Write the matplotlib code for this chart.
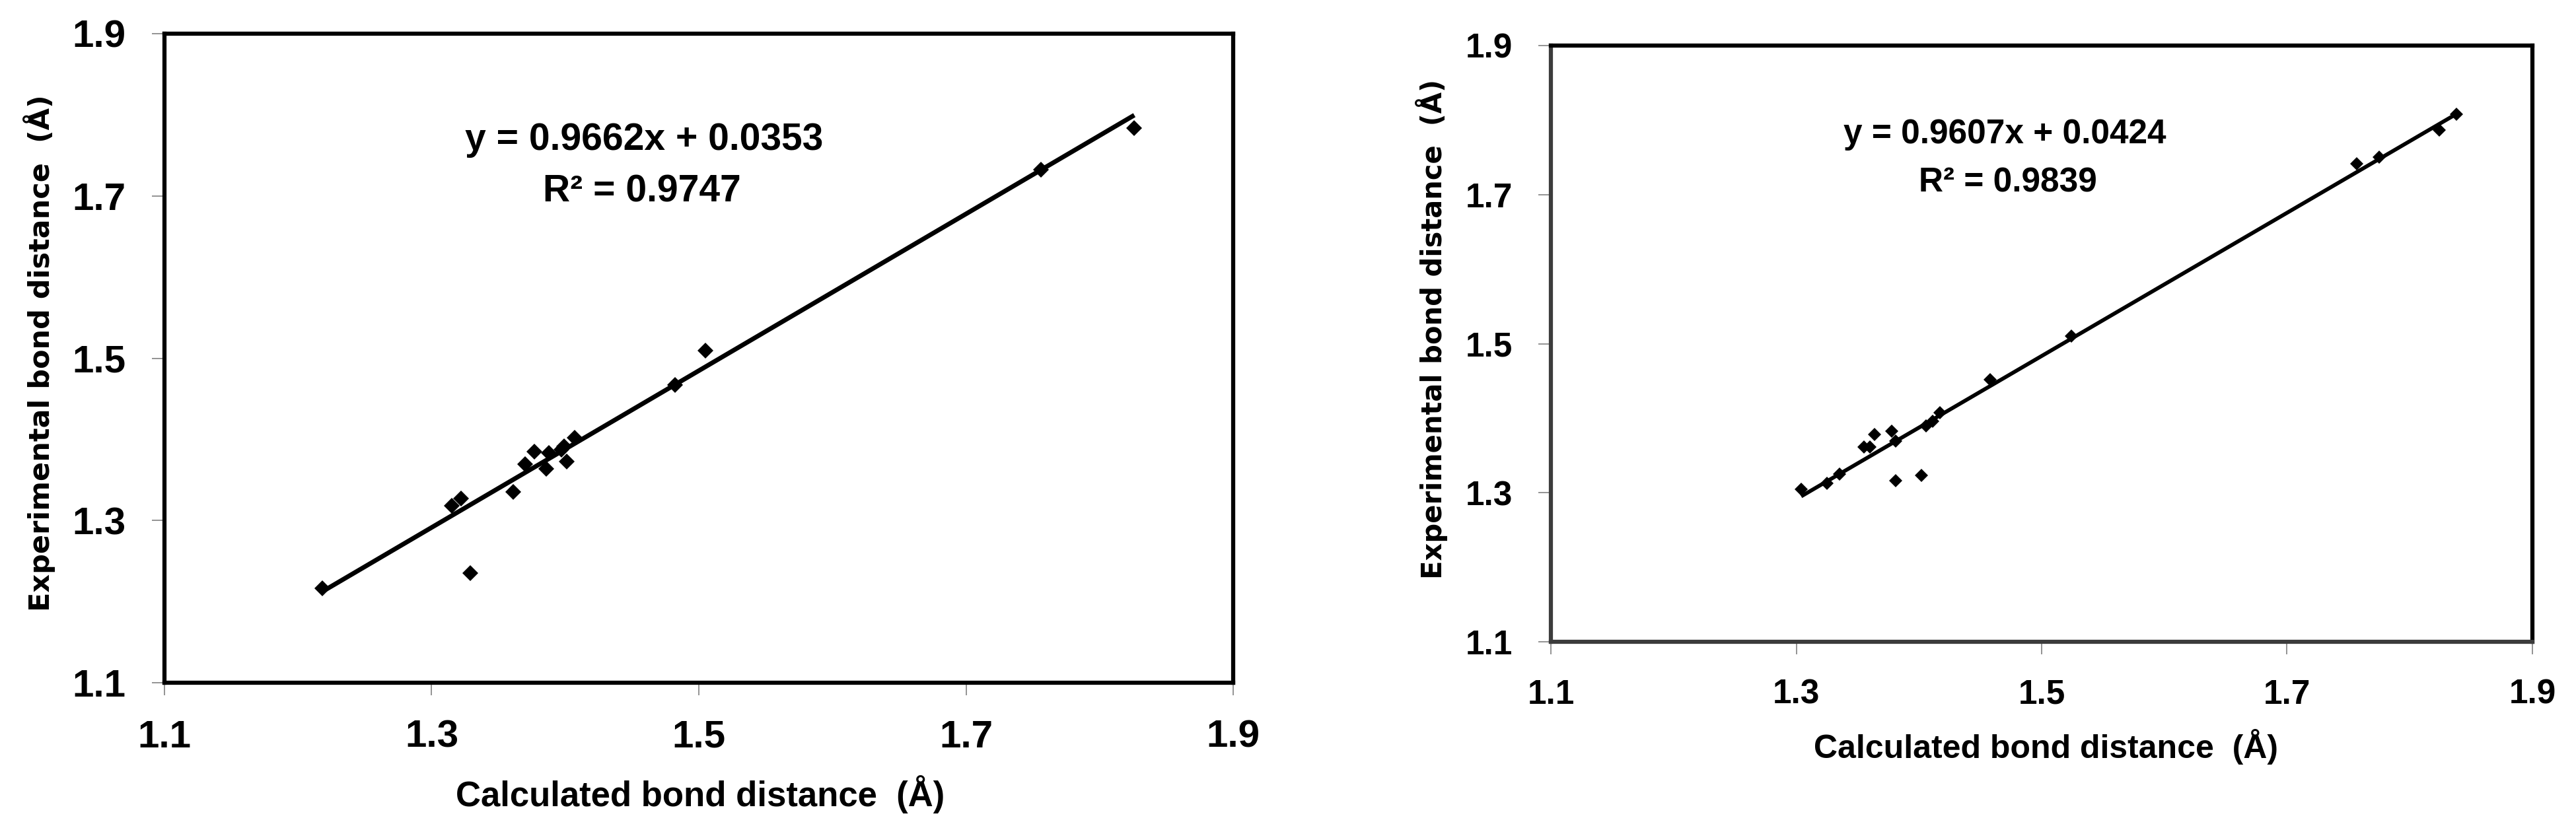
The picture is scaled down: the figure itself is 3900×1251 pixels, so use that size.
import matplotlib.pyplot as plt

# values
calc_a = [1.218, 1.315, 1.322, 1.329, 1.361, 1.370, 1.377, 1.386, 1.388,
          1.397, 1.399, 1.401, 1.407, 1.482, 1.505, 1.756, 1.826]
exp_a = [1.216, 1.318, 1.327, 1.235, 1.335, 1.369, 1.385, 1.364, 1.383,
         1.387, 1.391, 1.373, 1.402, 1.467, 1.509, 1.732, 1.784]

calc_b = [1.304, 1.325, 1.335, 1.355, 1.360, 1.364, 1.378, 1.381, 1.381,
          1.402, 1.406, 1.411, 1.417, 1.458, 1.524, 1.757, 1.775, 1.824, 1.838]
exp_b = [1.305, 1.313, 1.325, 1.361, 1.361, 1.378, 1.383, 1.369, 1.316,
         1.323, 1.390, 1.396, 1.407, 1.452, 1.510, 1.741, 1.750, 1.787, 1.808]

fit_a = (0.9662, 0.0353)
fit_b = (0.9607, 0.0424)
eq_a = ['y = 0.9662x + 0.0353', 'R\u00b2 = 0.9747']
eq_b = ['y = 0.9607x + 0.0424', 'R\u00b2 = 0.9839']

ticks = [1.1, 1.3, 1.5, 1.7, 1.9]
tick_labels = ['1.1', '1.3', '1.5', '1.7', '1.9']
x_label = 'Calculated bond distance  (\u00c5)'
y_label = 'Experimental bond distance  (\u00c5)'

W, H = 3900, 1251
fig = plt.figure(figsize=(W / 100, H / 100), dpi=100)


def fx(x):
    return x / W


def fy(y):
    return 1 - y / H


def panel(rect, calc, exp, fit, eq, eq_pos, fs_tick, fs_eq, ms, lw,
          xlab_pos, fs_xlab, ylab_pos, fs_ylab, low_col):
    ax = fig.add_axes(rect)
    ax.set_xlim(1.1, 1.9)
    ax.set_ylim(1.1, 1.9)
    ax.set_xticks(ticks)
    ax.set_yticks(ticks)
    ax.set_xticklabels(tick_labels, fontsize=fs_tick, fontweight='bold',
                       family='Liberation Sans')
    ax.set_yticklabels(tick_labels, fontsize=fs_tick, fontweight='bold',
                       family='Liberation Sans')
    ax.tick_params(axis='both', direction='out', length=14, width=1.2,
                   color='#808080')
    ax.tick_params(axis='x', pad=26)
    ax.tick_params(axis='y', pad=28)
    for side in ['top', 'right']:
        ax.spines[side].set_linewidth(4.5)
        ax.spines[side].set_color('black')
    for side in ['left', 'bottom']:
        ax.spines[side].set_linewidth(4.5)
        ax.spines[side].set_color(low_col)

    # trendline over the data range
    xs = [min(calc), max(calc)]
    ys = [fit[0] * x + fit[1] for x in xs]
    ax.plot(xs, ys, color='black', lw=lw, solid_capstyle='butt', zorder=2)
    ax.plot(calc, exp, linestyle='none', marker='D', ms=ms, mew=0,
            color='black', zorder=3)

    for (tx, ty), s in zip(eq_pos, eq):
        fig.text(fx(tx), fy(ty), s, ha='center', va='center',
                 fontsize=fs_eq, fontweight='bold', family='Liberation Sans')
    fig.text(fx(xlab_pos[0]), fy(xlab_pos[1]), x_label, ha='center',
             va='center', fontsize=fs_xlab, fontweight='bold',
             family='Liberation Sans')
    fig.text(fx(ylab_pos[0]), fy(ylab_pos[1]), y_label, ha='center',
             va='center', rotation=90, fontsize=fs_ylab, fontweight='bold',
             family='DejaVu Sans')
    return ax


panel([fx(249), fy(1034), (1867 - 249) / W, (1034 - 51) / H],
      calc_a, exp_a, fit_a, eq_a, [(975, 212), (972, 290)],
      fs_tick=42, fs_eq=41, ms=12, lw=5.0,
      xlab_pos=(1060, 1203), fs_xlab=38,
      ylab_pos=(60, 535), fs_ylab=31, low_col='black')

panel([fx(2348), fy(972), (3834 - 2348) / W, (972 - 69) / H],
      calc_b, exp_b, fit_b, eq_b, [(3035, 204), (3040, 277)],
      fs_tick=37, fs_eq=37, ms=10, lw=4.2,
      xlab_pos=(3097, 1131), fs_xlab=36,
      ylab_pos=(2168, 498), fs_ylab=30, low_col='#3c3c3c')

fig.savefig('out.png', dpi=100, facecolor='white')
